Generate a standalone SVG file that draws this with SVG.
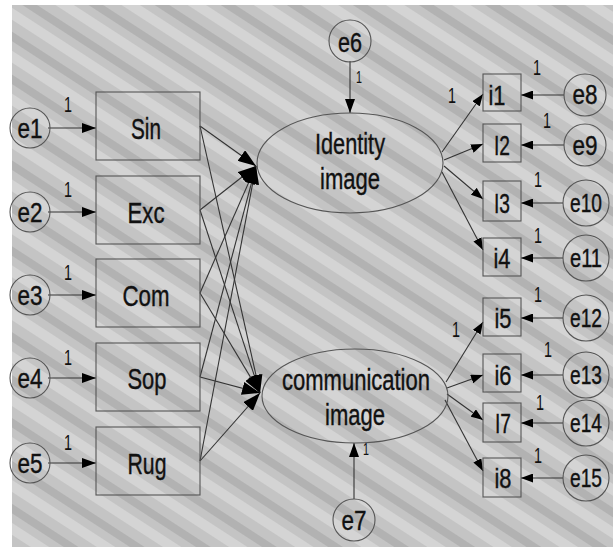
<svg xmlns="http://www.w3.org/2000/svg" width="613" height="555" viewBox="0 0 613 555">
  <defs>
    <!-- diagonal banded backdrop of the scanned page -->
    <pattern id="bands" patternUnits="userSpaceOnUse" width="36" height="36" patternTransform="rotate(33)">
      <rect width="36" height="36" fill="#c4c4c4"/>
      <rect y="0" width="36" height="10" fill="#d4d4d4"/>
      <rect y="20" width="36" height="8" fill="#b2b2b2"/>
    </pattern>
    <marker id="arrow" viewBox="0 0 14 10" refX="14" refY="5" markerWidth="14" markerHeight="10" markerUnits="userSpaceOnUse" orient="auto">
      <path d="M0,0 L14,5 L0,10 z" fill="#000"/>
    </marker>
    <marker id="arrowL" viewBox="0 0 18 13" refX="18" refY="6.5" markerWidth="18" markerHeight="13" markerUnits="userSpaceOnUse" orient="auto">
      <path d="M0,0 L18,6.5 L0,13 z" fill="#000"/>
    </marker>
    <marker id="arrowS" viewBox="0 0 12 9" refX="12" refY="4.5" markerWidth="12" markerHeight="9" markerUnits="userSpaceOnUse" orient="auto">
      <path d="M0,0 L12,4.5 L0,9 z" fill="#000"/>
    </marker>
  </defs>
  <style>
    text { font-family: "Liberation Sans", Arial, sans-serif; fill: #111; stroke: #111; stroke-width: 0.4; }
    .lbl { font-size: 30px; text-anchor: middle; }
    .err { font-size: 28px; text-anchor: middle; }
    .err2 { font-size: 26px; text-anchor: middle; }
    .ind { font-size: 28px; text-anchor: middle; }
    .one { font-size: 22px; text-anchor: middle; stroke-width: 0; }
    .shape { fill: none; stroke: #555; stroke-width: 1.1; }
    .conn line { stroke: #333; stroke-width: 1.1; }
  </style>

  <rect x="12" y="5" width="601" height="542" fill="url(#bands)"/>

  <!-- connectors -->
  <g id="connectors" class="conn">
    <!-- error terms into observed items (left) -->
    <line x1="48" y1="128" x2="96" y2="128" marker-end="url(#arrow)"/>
    <line x1="48" y1="212" x2="96" y2="212" marker-end="url(#arrow)"/>
    <line x1="48" y1="295" x2="96" y2="295" marker-end="url(#arrow)"/>
    <line x1="48" y1="378" x2="96" y2="378" marker-end="url(#arrow)"/>
    <line x1="48" y1="463" x2="96" y2="463" marker-end="url(#arrow)"/>
    <!-- observed items into Identity image -->
    <line x1="200" y1="126" x2="256" y2="166" marker-end="url(#arrowL)"/>
    <line x1="200" y1="210" x2="256" y2="166" marker-end="url(#arrowL)"/>
    <line x1="200" y1="293" x2="256" y2="166" marker-end="url(#arrowL)"/>
    <line x1="200" y1="377" x2="256" y2="166" marker-end="url(#arrowL)"/>
    <line x1="200" y1="461" x2="256" y2="166" marker-end="url(#arrowL)"/>
    <!-- observed items into communication image -->
    <line x1="200" y1="126" x2="260" y2="393" marker-end="url(#arrowL)"/>
    <line x1="200" y1="210" x2="260" y2="393" marker-end="url(#arrowL)"/>
    <line x1="200" y1="293" x2="260" y2="393" marker-end="url(#arrowL)"/>
    <line x1="200" y1="377" x2="260" y2="393" marker-end="url(#arrowL)"/>
    <line x1="200" y1="461" x2="260" y2="393" marker-end="url(#arrowL)"/>
    <!-- disturbances -->
    <line x1="350" y1="61" x2="350" y2="113" marker-end="url(#arrow)"/>
    <line x1="354" y1="499" x2="354" y2="443" marker-end="url(#arrow)"/>
    <!-- Identity image loadings -->
    <line x1="442" y1="152" x2="483" y2="94" marker-end="url(#arrowS)"/>
    <line x1="444" y1="160" x2="483" y2="144" marker-end="url(#arrowS)"/>
    <line x1="444" y1="166" x2="483" y2="199" marker-end="url(#arrowS)"/>
    <line x1="442" y1="172" x2="483" y2="250" marker-end="url(#arrowS)"/>
    <!-- communication image loadings -->
    <line x1="446" y1="382" x2="483" y2="322" marker-end="url(#arrowS)"/>
    <line x1="447" y1="388" x2="483" y2="375" marker-end="url(#arrowS)"/>
    <line x1="447" y1="394" x2="483" y2="420" marker-end="url(#arrowS)"/>
    <line x1="445" y1="400" x2="483" y2="471" marker-end="url(#arrowS)"/>
    <!-- error terms into indicators (right) -->
    <line x1="564" y1="95" x2="521" y2="95" marker-end="url(#arrowS)"/>
    <line x1="564" y1="145" x2="521" y2="145" marker-end="url(#arrowS)"/>
    <line x1="563" y1="203" x2="521" y2="203" marker-end="url(#arrowS)"/>
    <line x1="563" y1="258" x2="521" y2="258" marker-end="url(#arrowS)"/>
    <line x1="563" y1="318" x2="521" y2="318" marker-end="url(#arrowS)"/>
    <line x1="563" y1="375" x2="521" y2="375" marker-end="url(#arrowS)"/>
    <line x1="563" y1="423" x2="521" y2="423" marker-end="url(#arrowS)"/>
    <line x1="563" y1="478" x2="521" y2="478" marker-end="url(#arrowS)"/>
  </g>

  <!-- path weights -->
  <g id="weights">
    <text class="one" x="68" y="112" textLength="8" lengthAdjust="spacingAndGlyphs">1</text>
    <text class="one" x="68" y="197" textLength="8" lengthAdjust="spacingAndGlyphs">1</text>
    <text class="one" x="68" y="280" textLength="8" lengthAdjust="spacingAndGlyphs">1</text>
    <text class="one" x="68" y="365" textLength="8" lengthAdjust="spacingAndGlyphs">1</text>
    <text class="one" x="68" y="450" textLength="8" lengthAdjust="spacingAndGlyphs">1</text>
    <text class="one" x="359" y="83" style="font-size:17px" textLength="6" lengthAdjust="spacingAndGlyphs">1</text>
    <text class="one" x="366" y="455" style="font-size:16px" textLength="6" lengthAdjust="spacingAndGlyphs">1</text>
    <text class="one" x="452" y="103" textLength="8" lengthAdjust="spacingAndGlyphs">1</text>
    <text class="one" x="456" y="337" textLength="8" lengthAdjust="spacingAndGlyphs">1</text>
    <text class="one" x="537" y="75" textLength="8" lengthAdjust="spacingAndGlyphs">1</text>
    <text class="one" x="547" y="128" textLength="8" lengthAdjust="spacingAndGlyphs">1</text>
    <text class="one" x="538" y="187" textLength="8" lengthAdjust="spacingAndGlyphs">1</text>
    <text class="one" x="538" y="243" textLength="8" lengthAdjust="spacingAndGlyphs">1</text>
    <text class="one" x="538" y="302" textLength="8" lengthAdjust="spacingAndGlyphs">1</text>
    <text class="one" x="548" y="357" textLength="8" lengthAdjust="spacingAndGlyphs">1</text>
    <text class="one" x="540" y="410" textLength="8" lengthAdjust="spacingAndGlyphs">1</text>
    <text class="one" x="538" y="463" textLength="8" lengthAdjust="spacingAndGlyphs">1</text>
  </g>

  <!-- left error terms -->
  <g id="e1"><circle class="shape" cx="30" cy="128" r="20"/><text class="err" x="30" y="138" textLength="25" lengthAdjust="spacingAndGlyphs">e1</text></g>
  <g id="e2"><circle class="shape" cx="30" cy="212" r="20"/><text class="err" x="30" y="222" textLength="25" lengthAdjust="spacingAndGlyphs">e2</text></g>
  <g id="e3"><circle class="shape" cx="30" cy="295" r="20"/><text class="err" x="30" y="305" textLength="25" lengthAdjust="spacingAndGlyphs">e3</text></g>
  <g id="e4"><circle class="shape" cx="30" cy="378" r="20"/><text class="err" x="30" y="388" textLength="25" lengthAdjust="spacingAndGlyphs">e4</text></g>
  <g id="e5"><circle class="shape" cx="30" cy="463" r="20"/><text class="err" x="30" y="473" textLength="25" lengthAdjust="spacingAndGlyphs">e5</text></g>

  <!-- observed items -->
  <g id="Sin"><rect class="shape" x="96" y="92" width="104" height="68"/><text class="lbl" x="146" y="139" textLength="30" lengthAdjust="spacingAndGlyphs">Sin</text></g>
  <g id="Exc"><rect class="shape" x="96" y="176" width="104" height="68"/><text class="lbl" x="146" y="223" textLength="37" lengthAdjust="spacingAndGlyphs">Exc</text></g>
  <g id="Com"><rect class="shape" x="96" y="259" width="104" height="68"/><text class="lbl" x="146" y="306" textLength="47" lengthAdjust="spacingAndGlyphs">Com</text></g>
  <g id="Sop"><rect class="shape" x="96" y="343" width="104" height="68"/><text class="lbl" x="147" y="389" textLength="39" lengthAdjust="spacingAndGlyphs">Sop</text></g>
  <g id="Rug"><rect class="shape" x="96" y="427" width="104" height="68"/><text class="lbl" x="147" y="474" textLength="39" lengthAdjust="spacingAndGlyphs">Rug</text></g>

  <!-- latent variables -->
  <g id="identity-image">
    <ellipse class="shape" cx="350" cy="163" rx="93" ry="50"/>
    <text class="lbl" x="350" y="154" textLength="70" lengthAdjust="spacingAndGlyphs">Identity</text>
    <text class="lbl" x="350" y="189" textLength="60" lengthAdjust="spacingAndGlyphs">image</text>
  </g>
  <g id="communication-image">
    <ellipse class="shape" cx="355" cy="396" rx="93" ry="47"/>
    <text class="lbl" x="356" y="390" textLength="148" lengthAdjust="spacingAndGlyphs">communication</text>
    <text class="lbl" x="355" y="425" textLength="60" lengthAdjust="spacingAndGlyphs">image</text>
  </g>
  <g id="e6"><circle class="shape" cx="350" cy="41" r="21"/><text class="err" x="350" y="52" textLength="24" lengthAdjust="spacingAndGlyphs">e6</text></g>
  <g id="e7"><circle class="shape" cx="354" cy="520" r="21"/><text class="err" x="354" y="530" textLength="25" lengthAdjust="spacingAndGlyphs">e7</text></g>

  <!-- indicators -->
  <g id="i1"><rect class="shape" x="483" y="74" width="38" height="37"/><text class="ind" x="497" y="105" textLength="17" lengthAdjust="spacingAndGlyphs">i1</text></g>
  <g id="i2"><rect class="shape" x="483" y="124" width="38" height="38"/><text class="ind" x="502" y="155" textLength="16" lengthAdjust="spacingAndGlyphs">I2</text></g>
  <g id="i3"><rect class="shape" x="483" y="181" width="38" height="40"/><text class="ind" x="502" y="213" textLength="16" lengthAdjust="spacingAndGlyphs">I3</text></g>
  <g id="i4"><rect class="shape" x="483" y="238" width="38" height="38"/><text class="ind" x="502" y="268" textLength="17" lengthAdjust="spacingAndGlyphs">i4</text></g>
  <g id="i5"><rect class="shape" x="483" y="298" width="38" height="38"/><text class="ind" x="503" y="328" textLength="17" lengthAdjust="spacingAndGlyphs">i5</text></g>
  <g id="i6"><rect class="shape" x="483" y="354" width="38" height="38"/><text class="ind" x="503" y="385" textLength="17" lengthAdjust="spacingAndGlyphs">i6</text></g>
  <g id="i7"><rect class="shape" x="483" y="403" width="38" height="39"/><text class="ind" x="503" y="433" textLength="16" lengthAdjust="spacingAndGlyphs">I7</text></g>
  <g id="i8"><rect class="shape" x="483" y="458" width="38" height="39"/><text class="ind" x="503" y="488" textLength="17" lengthAdjust="spacingAndGlyphs">i8</text></g>

  <!-- right error terms -->
  <g id="e8"><circle class="shape" cx="585" cy="95" r="21"/><text class="err" x="585" y="104" textLength="25" lengthAdjust="spacingAndGlyphs">e8</text></g>
  <g id="e9"><circle class="shape" cx="585" cy="145" r="21"/><text class="err" x="585" y="155" textLength="25" lengthAdjust="spacingAndGlyphs">e9</text></g>
  <g id="e10"><circle class="shape" cx="586" cy="203" r="23"/><text class="err2" x="586" y="212" textLength="32" lengthAdjust="spacingAndGlyphs">e10</text></g>
  <g id="e11"><circle class="shape" cx="586" cy="258" r="23"/><text class="err2" x="586" y="267" textLength="32" lengthAdjust="spacingAndGlyphs">e11</text></g>
  <g id="e12"><circle class="shape" cx="586" cy="318" r="23"/><text class="err2" x="586" y="327" textLength="32" lengthAdjust="spacingAndGlyphs">e12</text></g>
  <g id="e13"><circle class="shape" cx="586" cy="375" r="23"/><text class="err2" x="586" y="384" textLength="32" lengthAdjust="spacingAndGlyphs">e13</text></g>
  <g id="e14"><circle class="shape" cx="586" cy="423" r="23"/><text class="err2" x="586" y="432" textLength="32" lengthAdjust="spacingAndGlyphs">e14</text></g>
  <g id="e15"><circle class="shape" cx="586" cy="478" r="23"/><text class="err2" x="586" y="487" textLength="32" lengthAdjust="spacingAndGlyphs">e15</text></g>
</svg>
